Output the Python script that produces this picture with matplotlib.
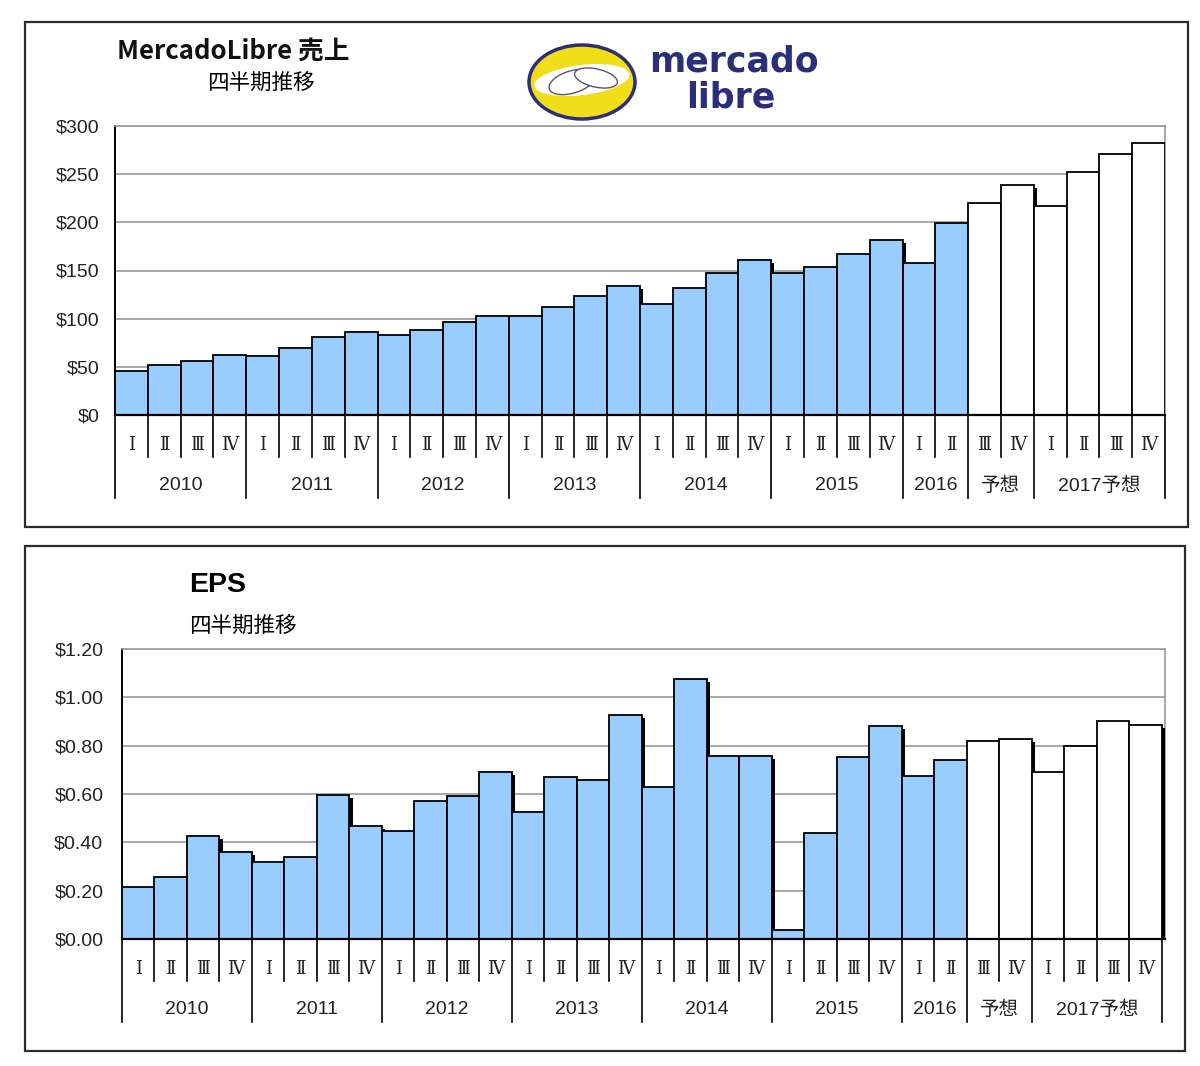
import matplotlib
matplotlib.use("Agg")
import matplotlib.pyplot as plt
import matplotlib.patches as mpatches
import matplotlib.patheffects as pe
from matplotlib.transforms import blended_transform_factory

plt.rcParams['font.family'] = ['Liberation Sans', 'Noto Sans CJK JP', 'DejaVu Sans']

# ---------------- data ----------------
quarter_labels = ['Ⅰ', 'Ⅱ', 'Ⅲ', 'Ⅳ'] * 8
group_labels = ['2010', '2011', '2012', '2013', '2014', '2015', '2016', '予想', '2017予想']
group_sizes = [4, 4, 4, 4, 4, 4, 2, 2, 4]
n_actual = 26  # bars after this are forecasts (white)

revenue = [45.5, 52.4, 56.2, 62.8, 61.0, 69.7, 81.4, 86.6,
           83.0, 88.0, 97.0, 103.0, 103.0, 112.0, 124.0, 134.0,
           115.5, 131.7, 147.2, 161.0, 147.2, 154.0, 167.6, 181.4,
           157.6, 199.7, 220.3, 238.6, 216.6, 252.4, 271.0, 282.8]
revenue_ticks = [0, 50, 100, 150, 200, 250, 300]

eps = [0.215, 0.257, 0.427, 0.360, 0.318, 0.338, 0.595, 0.467,
       0.447, 0.569, 0.591, 0.690, 0.527, 0.671, 0.656, 0.928,
       0.631, 1.077, 0.757, 0.757, 0.039, 0.440, 0.753, 0.881,
       0.676, 0.739, 0.820, 0.827, 0.690, 0.800, 0.903, 0.887]
eps_ticks = [0.0, 0.2, 0.4, 0.6, 0.8, 1.0, 1.2]

# ---------------- layout ----------------
W, H = 1200, 1066
fig = plt.figure(figsize=(W / 100, H / 100), dpi=100)
fig.patch.set_facecolor('white')


def rect(l, t, r, b):
    return [l / W, 1 - b / H, (r - l) / W, (b - t) / H]


def fx(x):
    return x / W


def fy(y):
    return 1 - y / H


# panel boxes
for (l, t, r, b) in [(25, 22, 1188, 527), (25, 546, 1185, 1051)]:
    fig.patches.append(mpatches.Rectangle((fx(l), fy(b)), fx(r - l), (b - t) / H,
                                          transform=fig.transFigure, fill=False,
                                          edgecolor='#2a2a2a', linewidth=1.6))

BLUE = '#99CCFF'


def draw_panel(ax, values, ticks, fmt, ax_h_px, pad_pt, xmax):
    n = len(values)
    colors = [BLUE if i < n_actual else 'white' for i in range(n)]
    bars = ax.bar(range(n), values, width=1.0, color=colors, edgecolor='black',
                  linewidth=1.3, zorder=3)
    for b in bars:
        b.set_path_effects([pe.SimplePatchShadow(offset=(2.2, -2.2),
                                                 shadow_rgbFace='black', alpha=1.0),
                            pe.Normal()])
    ax.set_xlim(-0.5, xmax)
    ax.set_ylim(ticks[0], ticks[-1])
    ax.set_yticks(ticks)
    ax.set_yticklabels([fmt(t) for t in ticks], fontsize=14, color='#222222')
    ax.tick_params(axis='y', length=0, pad=pad_pt)
    ax.set_xticks([])
    ax.grid(axis='y', color='#9a9a9a', linewidth=1.2, zorder=0)
    ax.set_axisbelow(True)
    for s in ['top', 'right']:
        ax.spines[s].set_color('#9a9a9a')
        ax.spines[s].set_linewidth(1.2)
    ax.spines['left'].set_color('black')
    ax.spines['left'].set_linewidth(1.4)
    ax.spines['bottom'].set_color('black')
    ax.spines['bottom'].set_linewidth(1.6)
    ax.spines['bottom'].set_zorder(5)

    # hierarchical category axis
    tr = blended_transform_factory(ax.transData, ax.transAxes)
    q_line, g_line, q_lab, g_lab = 42, 83, 30, 71
    bounds = [0]
    for s in group_sizes:
        bounds.append(bounds[-1] + s)
    for i in range(n + 1):
        length = g_line if i in bounds else q_line
        ax.plot([i - 0.5, i - 0.5], [0, -length / ax_h_px], transform=tr,
                color='black', linewidth=1.2, clip_on=False, zorder=4)
    for i, q in enumerate(quarter_labels):
        ax.text(i, -q_lab / ax_h_px, q, transform=tr, ha='center', va='center',
                fontsize=13, family=['DejaVu Serif', 'Noto Sans CJK JP'],
                color='#222222')
    for k, g in enumerate(group_labels):
        c = (bounds[k] + bounds[k + 1] - 1) / 2
        ax.text(c, -g_lab / ax_h_px, g, transform=tr, ha='center', va='center',
                fontsize=14, color='#222222')


# top panel: revenue
ax1 = fig.add_axes(rect(115, 126, 1165, 415))
draw_panel(ax1, revenue, revenue_ticks, lambda v: f'${v:.0f}', 289, 11, 31.5)

# bottom panel: EPS
ax2 = fig.add_axes(rect(122, 649, 1165, 939))
draw_panel(ax2, eps, eps_ticks, lambda v: f'${v:.2f}', 290, 13.5, 31.6)

# titles
fig.text(fx(117), fy(51), 'MercadoLibre 売上', fontsize=18.5, fontweight='bold',
         ha='left', va='center', family=['Noto Sans CJK JP'], color='#111111')
fig.text(fx(207), fy(83), '四半期推移', fontsize=15.5, ha='left', va='center',
         family=['Noto Sans CJK JP'], color='black')
fig.text(fx(189), fy(585), 'EPS', fontsize=20.5, fontweight='bold', ha='left',
         va='center', color='black')
fig.text(fx(189), fy(626), '四半期推移', fontsize=15.5, ha='left', va='center',
         family=['Noto Sans CJK JP'], color='black')

# logo (approximation)
NAVY = '#2B2F7A'
fig.patches.append(mpatches.Ellipse((fx(582), fy(82)), fx(106), 74 / H,
                                    transform=fig.transFigure, facecolor='#F2DE18',
                                    edgecolor=NAVY, linewidth=2.5))
fig.patches.append(mpatches.Ellipse((fx(582), fy(80)), fx(96), 30 / H, angle=8,
                                    transform=fig.transFigure, facecolor='white',
                                    edgecolor='none'))
fig.patches.append(mpatches.Ellipse((fx(572), fy(82)), fx(48), 22 / H, angle=20,
                                    transform=fig.transFigure, facecolor='white',
                                    edgecolor='#555577', linewidth=1.0))
fig.patches.append(mpatches.Ellipse((fx(596), fy(78)), fx(44), 18 / H, angle=-15,
                                    transform=fig.transFigure, facecolor='white',
                                    edgecolor='#555577', linewidth=1.0))
fig.text(fx(734), fy(62), 'mercado', fontsize=25, fontweight='bold', ha='center',
         va='center', color=NAVY, family=['DejaVu Sans'])
fig.text(fx(731), fy(97), 'libre', fontsize=25, fontweight='bold', ha='center',
         va='center', color=NAVY, family=['DejaVu Sans'])

fig.savefig('out.png', dpi=100, facecolor='white')
